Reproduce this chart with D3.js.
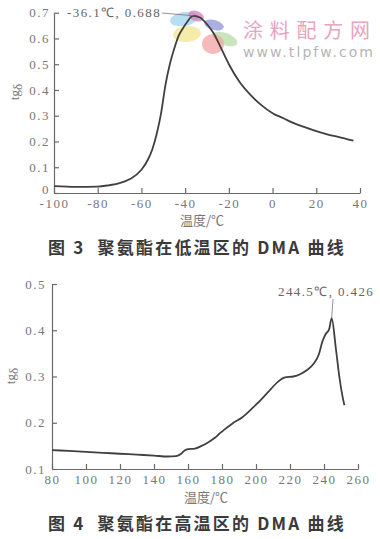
<!DOCTYPE html>
<html>
<head>
<meta charset="utf-8">
<script src="https://cdn.jsdelivr.net/npm/d3@7"></script>
<style>
body { margin: 0; background: #fff; }
svg { display: block; }
.tick text { font-family: "Liberation Serif", "DejaVu Serif", serif; font-size: 13px; fill: #777; }
.axis path, .axis line { stroke: #6a6a6a; stroke-width: 1.2; }
</style>
</head>
<body>
<svg id="chart" width="380" height="539"></svg>
<script>
// Fig 3: low-temperature region
const lowTemp = [-100, -90, -80, -75, -70, -65, -60, -57, -55, -53, -51, -49, -47, -45, -43, -41, -39, -37.5, -36.1,
    -33, -30, -27, -24, -20, -15, -10, -5, 0, 5, 10, 15, 20, 25, 30, 37];
const lowTan = [0.027, 0.024, 0.025, 0.03, 0.038, 0.055, 0.09, 0.13, 0.17, 0.23, 0.31, 0.42, 0.5, 0.56, 0.61, 0.64, 0.665, 0.682, 0.688,
    0.68, 0.655, 0.62, 0.57, 0.5, 0.43, 0.38, 0.34, 0.31, 0.29, 0.27, 0.255, 0.24, 0.228, 0.218, 0.203];
const lowTicksX = [-100, -80, -60, -40, -20, 0, 20, 40];
const lowTicksY = [0, 0.1, 0.2, 0.3, 0.4, 0.5, 0.6, 0.7];

// Fig 4: high-temperature region
const highTemp = [80, 90, 100, 110, 120, 130, 140, 148, 153, 156, 158, 160, 164, 168, 172, 176, 179, 181, 186, 192, 198, 204,
    209, 213, 217, 222, 226, 230, 234, 237, 239, 241, 243, 244.5, 247, 249, 251, 252];
const highTan = [0.141, 0.139, 0.137, 0.135, 0.133, 0.131, 0.129, 0.127, 0.128, 0.133, 0.14, 0.143, 0.144, 0.15, 0.158, 0.168, 0.178, 0.184,
    0.198, 0.212, 0.232, 0.254, 0.274, 0.289, 0.298, 0.3, 0.305, 0.314, 0.328, 0.348, 0.375, 0.392, 0.402, 0.426, 0.36, 0.3, 0.255, 0.238];
const highTicksX = [80, 100, 120, 140, 160, 180, 200, 220, 240, 260];
const highTicksY = [0.1, 0.2, 0.3, 0.4, 0.5];

const svg = d3.select('#chart');
svg.append('rect').attr('width', 380).attr('height', 539).attr('fill', '#fff');

// watermark logo petals
const petals = [
    [184, 19, 14, 7, -10, '#9fd3ec'],
    [196, 16, 8, 5, 20, '#d77bb8'],
    [187, 34, 14, 8, -5, '#f2e48f'],
    [214, 25, 10, 5, 15, '#8d95d6'],
    [225, 39, 13, 6, 20, '#b7dca5'],
    [213, 44, 11, 10, 0, '#f3a3a3']
];
svg.append('g')
    .selectAll('ellipse')
    .data(petals)
    .join('ellipse')
    .attr('cx', (d) => d[0])
    .attr('cy', (d) => d[1])
    .attr('rx', (d) => d[2])
    .attr('ry', (d) => d[3])
    .attr('transform', (d) => `rotate(${d[4]},${d[0]},${d[1]})`)
    .attr('fill', (d) => d[5])
    .attr('opacity', 0.75);
svg.append('text')
    .attr('x', 243)
    .attr('y', 38)
    .attr('textLength', 127)
    .attr('fill', '#eaa2be')
    .style('font-family', '"Noto Sans CJK SC"')
    .style('font-size', '20px')
    .text('涂料配方网');
svg.append('text')
    .attr('x', 243)
    .attr('y', 57)
    .attr('textLength', 130)
    .attr('fill', '#b5b5b5')
    .style('font-family', '"DejaVu Sans", sans-serif')
    .style('font-size', '14px')
    .text('www.tlpfw.com');

function drawPanel(opt) {
    const g = svg.append('g');
    const x = d3.scaleLinear().domain(opt.xDomain).range(opt.xRange);
    const y = d3.scaleLinear().domain(opt.yDomain).range(opt.yRange);

    g.append('g')
        .attr('class', 'axis')
        .attr('transform', `translate(0,${opt.yRange[0]})`)
        .call(d3.axisBottom(x).tickValues(opt.xTicks).tickSizeInner(-5).tickSizeOuter(0).tickPadding(6).tickFormat((d) => String(d)));
    const yAxis = g.append('g')
        .attr('class', 'axis')
        .attr('transform', `translate(${opt.xRange[0]},0)`)
        .call(d3.axisLeft(y).tickValues(opt.yTicks).tickSizeInner(-5).tickSizeOuter(0).tickPadding(opt.yPad)
            .tickFormat((d) => (d === 0 ? '0' : d.toFixed(1))));
    g.selectAll('.axis .tick text').attr('letter-spacing', 1.5);
    g.selectAll('.axis .domain').attr('fill', 'none');
    // the bottom "0" label sits just above the x labels, as in the print
    yAxis.selectAll('.tick text').filter((d) => d === 0).attr('dy', '0em');

    g.append('path')
        .datum(opt.xs.map((d, i) => [d, opt.ys[i]]))
        .attr('fill', 'none')
        .attr('stroke', '#404040')
        .attr('stroke-width', 1.8)
        .attr('d', d3.line().x((d) => x(d[0])).y((d) => y(d[1])).curve(d3.curveMonotoneX));

    // y title
    const yt = g.append('text')
        .attr('transform', `translate(${opt.yTitle[0]},${opt.yTitle[1]}) rotate(-90)`)
        .attr('text-anchor', 'middle')
        .attr('fill', '#777')
        .style('font-family', '"Liberation Serif", serif')
        .style('font-size', '13px');
    yt.append('tspan').text('tg');
    yt.append('tspan').attr('dy', 3).text('δ');

    // x title
    g.append('text')
        .attr('x', opt.xTitle[0])
        .attr('y', opt.xTitle[1])
        .attr('text-anchor', 'middle')
        .attr('fill', '#777')
        .style('font-family', '"Noto Sans CJK SC"')
        .style('font-size', '13px')
        .text('温度/℃');

    // caption
    g.append('text')
        .attr('x', 48)
        .attr('y', opt.caption[1])
        .attr('fill', '#3a3a3a')
        .attr('letter-spacing', 2.2)
        .style('white-space', 'pre')
        .style('font-family', '"Noto Sans CJK SC"')
        .style('font-weight', 'bold')
        .style('font-size', '17px')
        .text(opt.caption[0]);

    // peak annotation
    const px = x(opt.peak[0]);
    const py = y(opt.peak[1]);
    g.append('line')
        .attr('x1', opt.label[2])
        .attr('y1', opt.label[3])
        .attr('x2', px)
        .attr('y2', py)
        .attr('stroke', '#777')
        .attr('stroke-width', 0.8);
    g.append('text')
        .attr('x', opt.label[0])
        .attr('y', opt.label[1])
        .attr('fill', '#666')
        .attr('letter-spacing', 1.4)
        .style('font-family', '"Liberation Serif", serif')
        .style('font-size', '13px')
        .text(`${opt.peak[0]}℃, ${opt.peak[1]}`);
}

drawPanel({
    xs: lowTemp, ys: lowTan,
    xDomain: [-100, 40], xRange: [54, 360],
    yDomain: [0, 0.7], yRange: [193, 12.7],
    xTicks: lowTicksX, yTicks: lowTicksY, yPad: 4,
    yTitle: [19, 92], xTitle: [202, 225],
    caption: ['图 3  聚氨酯在低温区的 DMA 曲线', 254],
    peak: [-36.1, 0.688], label: [67, 17, 162, 13]
});

drawPanel({
    xs: highTemp, ys: highTan,
    xDomain: [80, 260], xRange: [52, 358],
    yDomain: [0.1, 0.5], yRange: [469, 284],
    xTicks: highTicksX, yTicks: highTicksY, yPad: 6,
    yTitle: [15, 376], xTitle: [206, 502],
    caption: ['图 4  聚氨酯在高温区的 DMA 曲线', 530],
    peak: [244.5, 0.426], label: [278, 296, 333, 299]
});
</script>
</body>
</html>
